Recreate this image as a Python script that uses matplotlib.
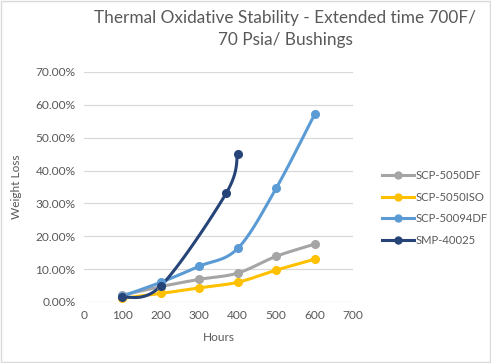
import numpy as np
import matplotlib.pyplot as plt
from matplotlib.ticker import PercentFormatter

# data (hours, weight loss %)
hours_df = [100, 200, 300, 400, 500, 600]
loss_df = [2.1, 4.7, 6.9, 8.8, 13.9, 17.6]

hours_iso = [100, 200, 300, 400, 500, 600]
loss_iso = [1.1, 2.6, 4.3, 6.0, 9.7, 13.0]

hours_094 = [100, 200, 300, 400, 500, 600]
loss_094 = [1.8, 6.0, 10.9, 16.3, 34.6, 57.1]

hours_smp = [100, 200, 370, 400]
loss_smp = [1.4, 4.9, 33.1, 45.0]

series_names = ['SCP-5050DF', 'SCP-5050ISO', 'SCP-50094DF', 'SMP-40025']
series_colors = ['#A5A5A5', '#FFC000', '#5B9BD5', '#264478']


# excel-like smoothed line: cubic bezier with control points from neighbours
def smooth(xs, ys, n=30):
    pts = np.column_stack([xs, ys]).astype(float)
    out = [pts[0]]
    for i in range(len(pts) - 1):
        p0 = pts[i - 1] if i > 0 else pts[i]
        p1 = pts[i]
        p2 = pts[i + 1]
        p3 = pts[i + 2] if i + 2 < len(pts) else pts[i + 1]
        c1 = p1 + (p2 - p0) / 6.0
        c2 = p2 - (p3 - p1) / 6.0
        t = np.linspace(0, 1, n)[1:, None]
        seg = ((1 - t) ** 3) * p1 + 3 * ((1 - t) ** 2) * t * c1 + 3 * (1 - t) * t ** 2 * c2 + t ** 3 * p2
        out.extend(seg)
    out = np.array(out)
    return out[:, 0], out[:, 1]


fig = plt.figure(figsize=(4.91, 3.63), dpi=100)
plt.rcParams['font.family'] = ['Lato', 'DejaVu Sans']
ax = fig.add_axes([84 / 491, 1 - 302 / 363, (353 - 84) / 491, (302 - 72) / 363])

all_data = [(hours_df, loss_df), (hours_iso, loss_iso), (hours_094, loss_094), (hours_smp, loss_smp)]
for (xs, ys), name, col in zip(all_data, series_names, series_colors):
    sx, sy = smooth(xs, ys)
    ax.plot(sx, sy, color=col, lw=2.2, solid_capstyle='round', zorder=3)
    ax.plot(xs, ys, 'o', color=col, ms=5.5, zorder=4)
    ax.plot([], [], '-o', color=col, lw=2.2, ms=5, label=name)

ax.set_xlim(0, 700)
ax.set_ylim(0, 70)
ax.set_xticks(range(0, 701, 100))
ax.set_yticks(range(0, 71, 10))
ax.yaxis.set_major_formatter(PercentFormatter(decimals=2))
ax.grid(axis='y', color='#D9D9D9', lw=0.9)
ax.set_axisbelow(True)
for s in ax.spines.values():
    s.set_visible(False)
ax.tick_params(length=0, labelsize=8.6, colors='#595959', pad=6)

ax.set_xlabel('Hours', fontsize=8.6, color='#595959', labelpad=8)
ax.set_ylabel('Weight Loss', fontsize=8.6, color='#595959', labelpad=10)

fig.text(285 / 491, 1 - 29 / 363, 'Thermal Oxidative Stability - Extended time 700F/\n70 Psia/ Bushings',
         ha='center', va='center', fontsize=12.4, color='#595959', linespacing=1.4)

ax.legend(loc='center left', bbox_to_anchor=(377 / 491, 1 - 208 / 363), bbox_transform=fig.transFigure,
          frameon=False, fontsize=8.1, labelcolor='#595959', handlelength=2.9, handletextpad=0.1,
          labelspacing=0.95, borderaxespad=0)

# light border around chart
fig.patches.append(plt.Rectangle((0.002, 0.003), 0.995, 0.994, transform=fig.transFigure,
                                 fill=False, edgecolor='#D9D9D9', lw=1))

fig.savefig('out.png', dpi=100)
